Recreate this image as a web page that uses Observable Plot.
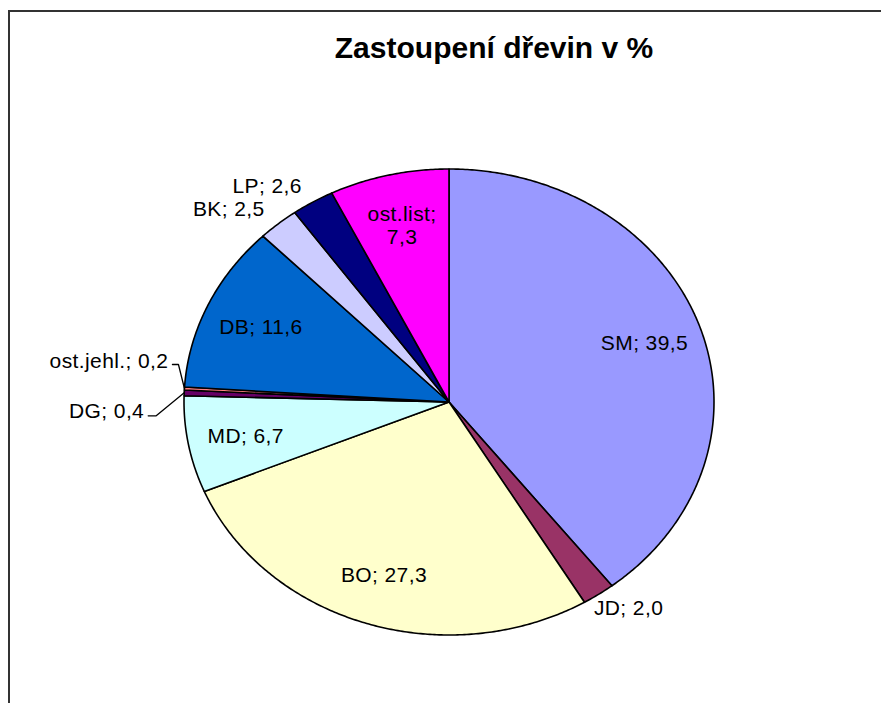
<!DOCTYPE html>
<html>
<head>
<meta charset="utf-8">
<script src="https://cdn.jsdelivr.net/npm/d3@7"></script>
<script src="https://cdn.jsdelivr.net/npm/@observablehq/plot@0.6"></script>
<style>
  html, body { margin: 0; padding: 0; background: #fff; }
  #wrap { position: relative; width: 881px; height: 724px; overflow: hidden; }
  #frame { position: absolute; left: 8px; top: 10px; width: 880px; height: 693px;
           border-top: 2px solid #333; border-left: 2px solid #333; box-sizing: border-box; }
  #title { position: absolute; left: 53.5px; top: 33px; width: 881px; text-align: center;
           font: bold 30px "Liberation Sans", Arial, sans-serif; line-height: 30px; color: #000; }
  #chart { position: absolute; left: 0; top: 0; }
  #chart svg text { letter-spacing: 0.4px; }
</style>
</head>
<body>
<div id="wrap">
  <div id="frame"></div>
  <div id="chart"></div>
  <div id="title">Zastoupení dřevin v %</div>
</div>
<script>
// ---- data ----
const names  = ["SM", "JD", "BO", "MD", "DG", "ost.jehl.", "DB", "BK", "LP", "ost.list"];
const values = [39.5, 2.0, 27.3, 6.7, 0.4, 0.2, 11.6, 2.5, 2.6, 7.3];
const colors = ["#9999FF", "#993366", "#FFFFCC", "#CCFFFF", "#660066", "#FF8080", "#0066CC", "#CCCCFF", "#000080", "#FF00FF"];

// ---- layout ----
const RX = 265, RY = 233;           // pixel radii of the (stretched) pie
const CX = 448.5, CY = 401.5;
const total = d3.sum(values);
const fmt = v => v.toFixed(1).replace(".", ",");

let cum = 0;
const slices = names.map((name, i) => {
  const a0 = cum / total * 2 * Math.PI;
  cum += values[i];
  const a1 = cum / total * 2 * Math.PI;
  const pts = [{x: 0, y: 0}];
  const n = Math.max(2, Math.ceil((a1 - a0) / (Math.PI / 360)));
  for (let k = 0; k <= n; k++) {
    const a = a0 + (a1 - a0) * k / n;
    pts.push({x: Math.sin(a), y: Math.cos(a)});
  }
  pts.push({x: 0, y: 0});
  const mid = (a0 + a1) / 2;
  return {name, value: values[i], color: colors[i], pts, mid};
});

const at = (a, r) => ({x: r * Math.sin(a), y: r * Math.cos(a)});
const off = (p, d) => ({x: p.x + d[0] / RX, y: p.y - d[1] / RY});

const inside = slices.filter(s => s.value >= 5).map(s => ({
  ...at(s.mid, 0.78),
  text: s.name === "ost.list" ? `${s.name};\n${fmt(s.value)}` : `${s.name}; ${fmt(s.value)}`
}));
const outsideAll = slices.filter(s => s.value >= 1 && s.value < 5);
const outsideEnd = outsideAll.filter(s => Math.sin(s.mid) < -0.3)
  .map(s => ({...at(s.mid, 1.08), text: `${s.name}; ${fmt(s.value)}`}));
const outsideMid = outsideAll.filter(s => Math.sin(s.mid) >= -0.3)
  .map(s => ({...off(at(s.mid, 1.05), [Math.sin(s.mid) * 40, -Math.cos(s.mid) * 5]), text: `${s.name}; ${fmt(s.value)}`}));

// tiny slices: leader lines (pixel offsets from pie edge point)
const tinyOffsets = {
  "DG":        {elbow: [-28, 23], end: [-36, 23], text: [-40, 18]},
  "ost.jehl.": {elbow: [-6, -24],  end: [-12, -24], text: [-16, -27]}
};
const tiny = slices.filter(s => s.value < 1);
const leaders = tiny.map(s => {
  const p = at(s.mid, 1);
  const o = tinyOffsets[s.name];
  return {name: s.name, pts: [off(p, o.end), off(p, o.elbow), p],
          label: {...off(p, o.text), text: `${s.name}; ${fmt(s.value)}`}};
});

const chart = Plot.plot({
  width: 881,
  height: 724,
  margin: 0,
  style: {fontFamily: "'Liberation Sans', Arial, sans-serif", background: "transparent"},
  x: {domain: [-1, 1], range: [CX - RX, CX + RX], axis: null},
  y: {domain: [-1, 1], range: [CY + RY, CY - RY], axis: null},
  marks: [
    ...slices.map(s => Plot.line(s.pts, {x: "x", y: "y", fill: s.color, stroke: "#000", strokeWidth: 1.6, strokeLinejoin: "round"})),
    Plot.text(inside, {x: "x", y: "y", text: "text", fontSize: 21, fill: "#000", lineHeight: 1.1}),
    Plot.text(outsideEnd, {x: "x", y: "y", text: "text", fontSize: 21, fill: "#000", textAnchor: "end"}),
    Plot.text(outsideMid, {x: "x", y: "y", text: "text", fontSize: 21, fill: "#000"}),
    ...leaders.map(l => Plot.line(l.pts, {x: "x", y: "y", stroke: "#000", strokeWidth: 1.3})),
    Plot.text(leaders.map(l => l.label), {x: "x", y: "y", text: "text", fontSize: 21, fill: "#000", textAnchor: "end"})
  ]
});
document.getElementById("chart").appendChild(chart);
</script>
</body>
</html>
